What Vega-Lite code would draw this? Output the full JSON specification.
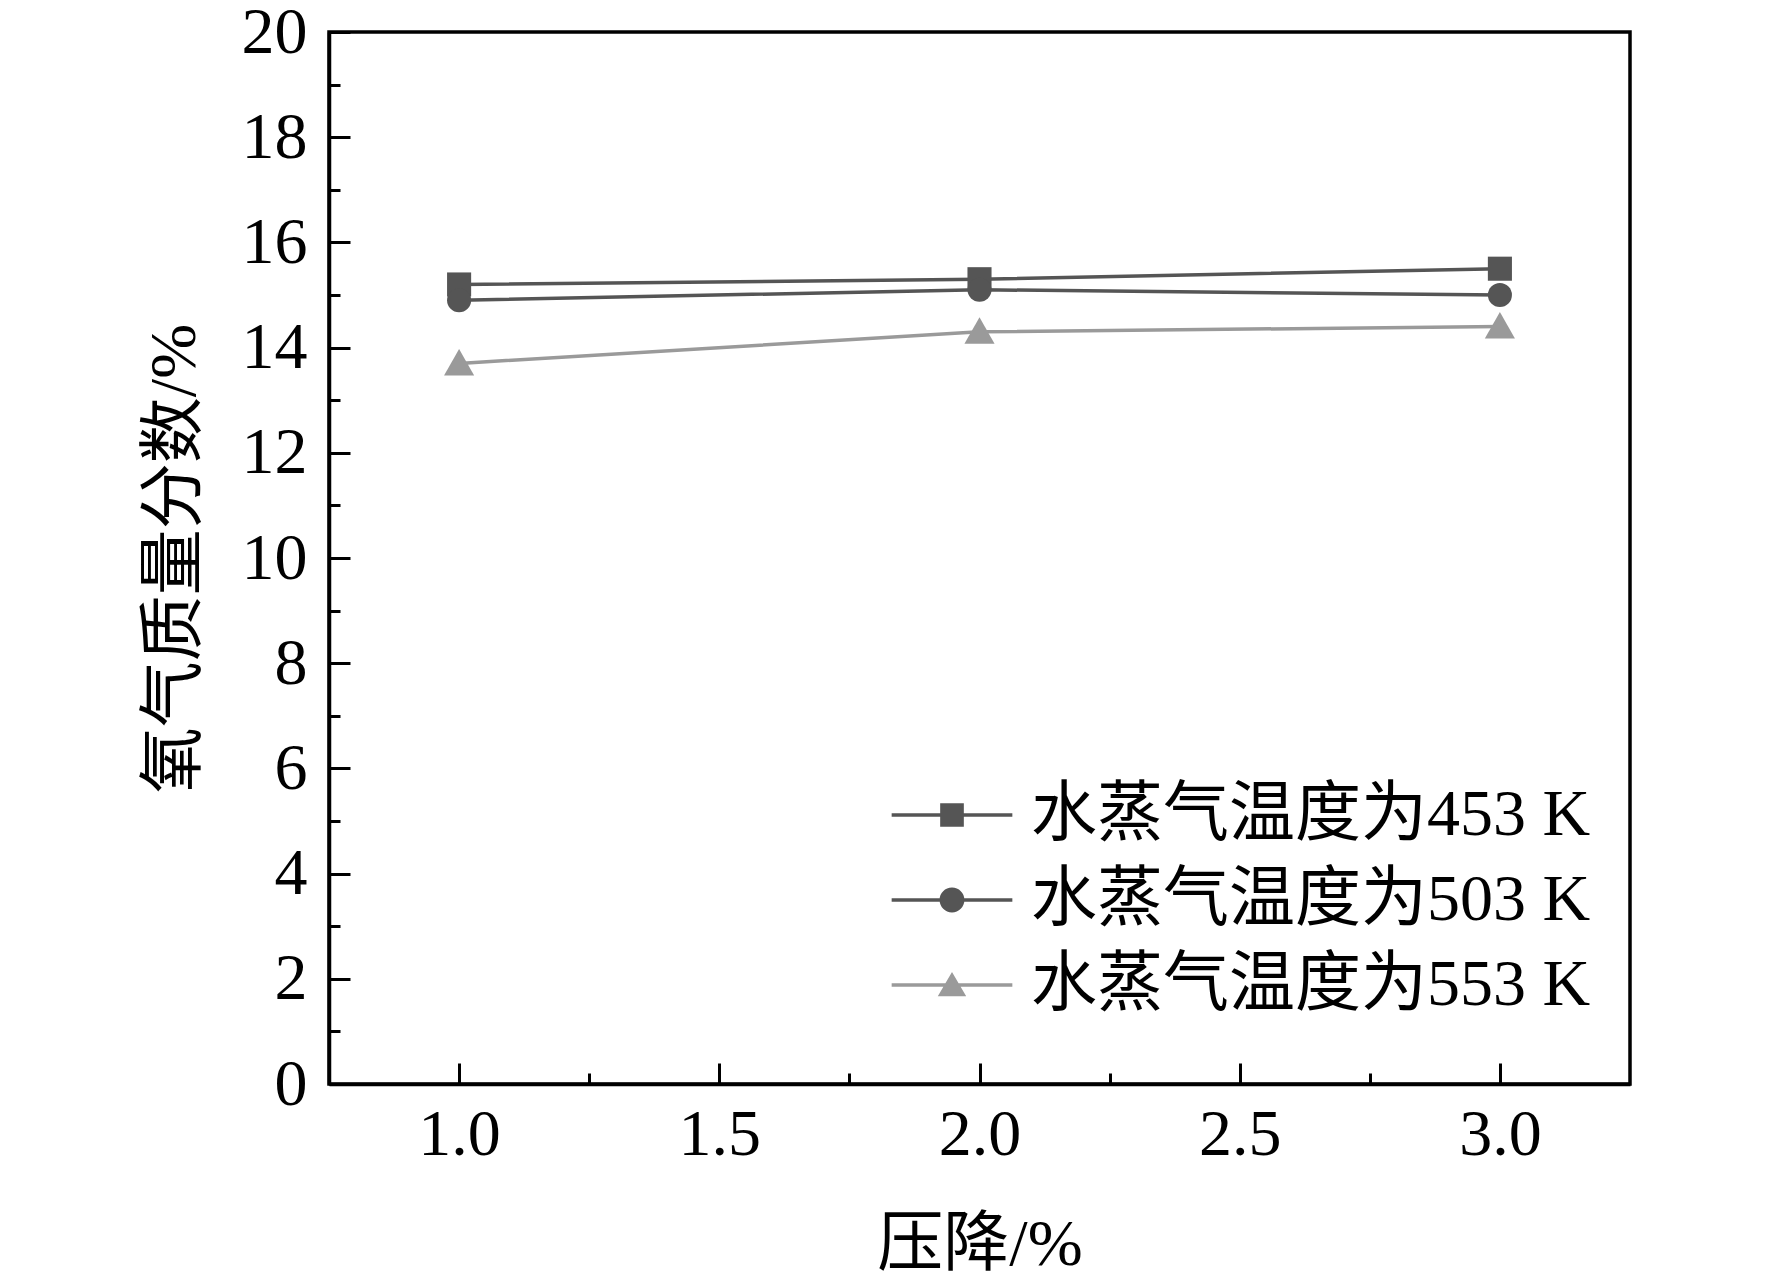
{
  "$schema": "https://vega.github.io/schema/vega-lite/v6.json",
  "width": 1301,
  "height": 1052,
  "autosize": {"type": "none"},
  "padding": {"left": 329, "top": 32, "right": 142, "bottom": 196},
  "background": "white",
  "config": {
    "view": {"stroke": "black", "strokeWidth": 3.5},
    "font": "Liberation Serif, Noto Sans CJK SC",
    "axis": {
      "grid": false,
      "domainColor": "black",
      "domainWidth": 3.5,
      "tickColor": "black",
      "tickWidth": 3,
      "labelColor": "black",
      "labelFont": "Liberation Serif",
      "labelFontSize": 66,
      "labelFlush": false,
      "labelOverlap": false,
      "titleFont": "Liberation Serif, Noto Sans CJK SC",
      "titleFontSize": 66,
      "titleFontWeight": "normal",
      "titleColor": "black"
    },
    "legend": {
      "labelFont": "Liberation Serif, Noto Sans CJK SC",
      "labelFontSize": 66,
      "labelColor": "black",
      "labelLimit": 2000,
      "labelOffset": 46,
      "symbolSize": 560,
      "symbolStrokeWidth": 0,
      "symbolOpacity": 1,
      "rowPadding": 19,
      "padding": 0
    }
  },
  "datasets": {
    "o2": [
      {"p": 1, "o": 15.2, "s": "水蒸气温度为453 K"},
      {"p": 2, "o": 15.3, "s": "水蒸气温度为453 K"},
      {"p": 3, "o": 15.5, "s": "水蒸气温度为453 K"},
      {"p": 1, "o": 14.9, "s": "水蒸气温度为503 K"},
      {"p": 2, "o": 15.1, "s": "水蒸气温度为503 K"},
      {"p": 3, "o": 15.0, "s": "水蒸气温度为503 K"},
      {"p": 1, "o": 13.7, "s": "水蒸气温度为553 K"},
      {"p": 2, "o": 14.3, "s": "水蒸气温度为553 K"},
      {"p": 3, "o": 14.4, "s": "水蒸气温度为553 K"}
    ]
  },
  "layer": [
    {
      "data": {"name": "o2"},
      "encoding": {
        "x": {
          "field": "p",
          "type": "quantitative",
          "scale": {"domain": [0.75, 3.25], "nice": false, "zero": false},
          "axis": {
            "orient": "bottom",
            "values": [1, 1.5, 2, 2.5, 3],
            "format": ".1f",
            "tickSize": -21,
            "labelPadding": 39,
            "title": "压降/%",
            "titleY": 180,
            "titleBaseline": "alphabetic"
          }
        },
        "y": {
          "field": "o",
          "type": "quantitative",
          "scale": {"domain": [0, 20], "nice": false},
          "axis": {
            "orient": "left",
            "values": [0, 2, 4, 6, 8, 10, 12, 14, 16, 18, 20],
            "format": "d",
            "tickSize": -21,
            "labelPadding": 43,
            "title": "氧气质量分数/%",
            "titleX": -155,
            "titleBaseline": "middle"
          }
        },
        "color": {
          "field": "s",
          "type": "nominal",
          "scale": {"range": ["#555555", "#555555", "#9a9a9a"]},
          "legend": null
        }
      },
      "layer": [
        {"mark": {"type": "line", "strokeWidth": 3.5}},
        {
          "mark": {"type": "point", "filled": true, "opacity": 1, "size": 580},
          "encoding": {
            "shape": {
              "field": "s",
              "type": "nominal",
              "scale": {"range": ["square", "circle", "M0,-1.2L1.25,1H-1.25Z"]},
              "legend": null
            }
          }
        }
      ]
    },
    {
      "data": {"name": "o2"},
      "transform": [{"filter": "false"}],
      "mark": {"type": "point", "opacity": 0},
      "encoding": {
        "x": {
          "field": "p",
          "type": "quantitative",
          "axis": {
            "orient": "bottom",
            "values": [1.25, 1.75, 2.25, 2.75],
            "tickSize": -11,
            "labels": false,
            "domain": false,
            "title": null
          }
        },
        "y": {
          "field": "o",
          "type": "quantitative",
          "axis": {
            "orient": "left",
            "values": [1, 3, 5, 7, 9, 11, 13, 15, 17, 19],
            "tickSize": -11,
            "labels": false,
            "domain": false,
            "title": null
          }
        }
      }
    },
    {
      "data": {"name": "o2"},
      "transform": [{"filter": "false"}],
      "mark": {"type": "point", "filled": true, "opacity": 1},
      "encoding": {
        "color": {
          "field": "s",
          "type": "nominal",
          "scale": {
            "domain": ["水蒸气温度为453 K", "水蒸气温度为503 K", "水蒸气温度为553 K"],
            "range": ["#555555", "#555555", "#9a9a9a"]
          },
          "legend": {"title": null, "orient": "none", "legendX": 590, "legendY": 750}
        },
        "shape": {
          "field": "s",
          "type": "nominal",
          "scale": {
            "domain": ["水蒸气温度为453 K", "水蒸气温度为503 K", "水蒸气温度为553 K"],
            "range": [
              "M-5.1,-0.15H5.1V0.15H-5.1Z M-1,-1H1V1H-1Z",
              "M-5.1,-0.15H5.1V0.15H-5.1Z M-1.05,0A1.05,1.05 0 1,1 1.05,0A1.05,1.05 0 1,1 -1.05,0Z",
              "M-5.1,-0.15H5.1V0.15H-5.1Z M0,-1.1L1.2,0.95H-1.2Z"
            ]
          },
          "legend": {"title": null, "orient": "none", "legendX": 590, "legendY": 750}
        }
      }
    }
  ],
  "resolve": {
    "scale": {"color": "independent", "shape": "independent"},
    "axis": {"x": "independent", "y": "independent"}
  }
}
